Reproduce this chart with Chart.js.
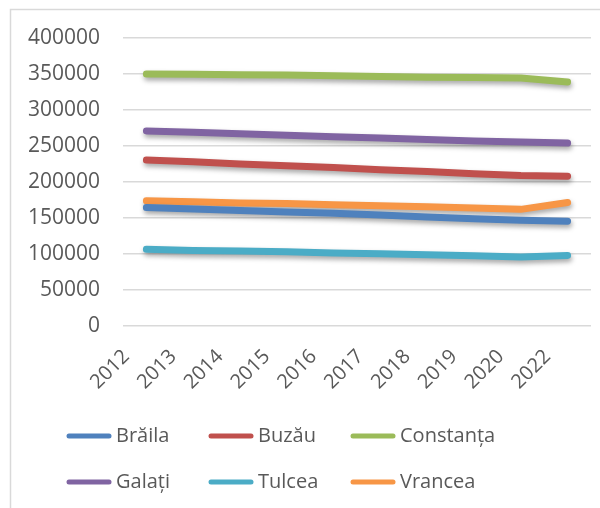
<!DOCTYPE html>
<html>
<head>
<meta charset="utf-8">
<script src="https://cdn.jsdelivr.net/npm/chart.js@4"></script>
<style>
  html, body { margin: 0; padding: 0; background: #fff; }
  #wrap { position: relative; width: 600px; height: 508px; }
</style>
</head>
<body>
<div id="wrap"><canvas id="chart" width="600" height="508"></canvas></div>
<script>
// Ani (axa X)
const years = ['2012', '2013', '2014', '2015', '2016', '2017', '2018', '2019', '2020', '2022'];

// Populație pe județe
const braila    = [164500, 162500, 160500, 158500, 156500, 154000, 151500, 149000, 147000, 145500];
const buzau     = [230500, 228000, 225000, 222500, 220000, 217000, 214500, 211500, 209000, 208000];
const constanta = [350000, 349500, 349000, 348500, 347500, 346500, 345500, 345000, 344500, 339000];
const galati    = [271000, 269000, 267000, 265000, 263000, 261000, 259000, 257000, 255500, 254000];
const tulcea    = [106500, 105000, 104000, 103000, 101500, 100500,  99000,  97500,  96000,  98000];
const vrancea   = [174000, 172500, 171000, 170000, 168500, 167000, 165500, 164000, 162000, 171500];

const seriesNames = ['Brăila', 'Buzău', 'Constanța', 'Galați', 'Tulcea', 'Vrancea'];
const seriesData = [braila, buzau, constanta, galati, tulcea, vrancea];
const seriesColors = ['#4F81BD', '#C0504D', '#9BBB59', '#8064A2', '#4BACC6', '#F79646'];

const yTicks = { min: 0, max: 400000, step: 50000 };

const FONT = '"Open Sans", sans-serif';
const TEXT_COLOR = '#595959';

// Umbra liniilor (ca in Excel)
const shadowPlugin = {
    id: 'lineShadow',
    beforeDatasetDraw(chart) {
        const ctx = chart.ctx;
        ctx.save();
        ctx.shadowColor = 'rgba(0,0,0,0.35)';
        ctx.shadowBlur = 5;
        ctx.shadowOffsetX = 1;
        ctx.shadowOffsetY = 3;
    },
    afterDatasetDraw(chart) {
        chart.ctx.restore();
    }
};

// Chenarul graficului + legenda pe coloane
const frameLegendPlugin = {
    id: 'frameLegend',
    beforeDraw(chart) {
        const ctx = chart.ctx;
        ctx.save();
        ctx.strokeStyle = '#d9d9d9';
        ctx.lineWidth = 1.5;
        ctx.beginPath();
        ctx.moveTo(10.5, 520);
        ctx.lineTo(10.5, 9.5);
        ctx.lineTo(620, 9.5);
        ctx.stroke();
        ctx.restore();
    },
    afterDraw(chart) {
        const ctx = chart.ctx;
        const colX = [67, 209, 351];
        const rowY = [436, 482];
        ctx.save();
        ctx.font = '20px ' + FONT;
        ctx.textBaseline = 'middle';
        ctx.fillStyle = TEXT_COLOR;
        chart.data.datasets.forEach((ds, i) => {
            const x = colX[i % 3];
            const y = rowY[Math.floor(i / 3)];
            ctx.strokeStyle = ds.borderColor;
            ctx.lineWidth = 5;
            ctx.lineCap = 'round';
            ctx.beginPath();
            ctx.moveTo(x + 2, y);
            ctx.lineTo(x + 42, y);
            ctx.stroke();
            ctx.fillText(ds.label, x + 49, y);
        });
        ctx.restore();
    }
};

new Chart(document.getElementById('chart'), {
    type: 'line',
    data: {
        labels: years,
        datasets: seriesNames.map((name, i) => ({
            label: name,
            data: seriesData[i],
            borderColor: seriesColors[i],
            backgroundColor: seriesColors[i],
            borderWidth: 7,
            borderCapStyle: 'round',
            borderJoinStyle: 'round',
            pointRadius: 0,
            tension: 0,
            fill: false
        }))
    },
    options: {
        responsive: false,
        animation: false,
        layout: { padding: { left: 0, top: 38, right: 9, bottom: 98 } },
        plugins: {
            legend: { display: false },
            tooltip: { enabled: false }
        },
        scales: {
            x: {
                offset: true,
                grid: { display: false },
                border: { display: false },
                ticks: {
                    color: TEXT_COLOR,
                    font: { family: FONT, size: 20 },
                    minRotation: 45,
                    maxRotation: 45,
                    labelOffset: -20,
                    padding: 11
                },
                afterFit(scale) { scale.height = 84; }
            },
            y: {
                min: yTicks.min,
                max: yTicks.max,
                border: { display: false },
                grid: { color: '#d9d9d9', lineWidth: 1.5, drawTicks: false },
                ticks: {
                    stepSize: yTicks.step,
                    color: TEXT_COLOR,
                    font: { family: FONT, size: 21 },
                    padding: 23,
                    callback: v => String(v)
                },
                afterFit(scale) { scale.width = 123; }
            }
        }
    },
    plugins: [shadowPlugin, frameLegendPlugin]
});
</script>
</body>
</html>
